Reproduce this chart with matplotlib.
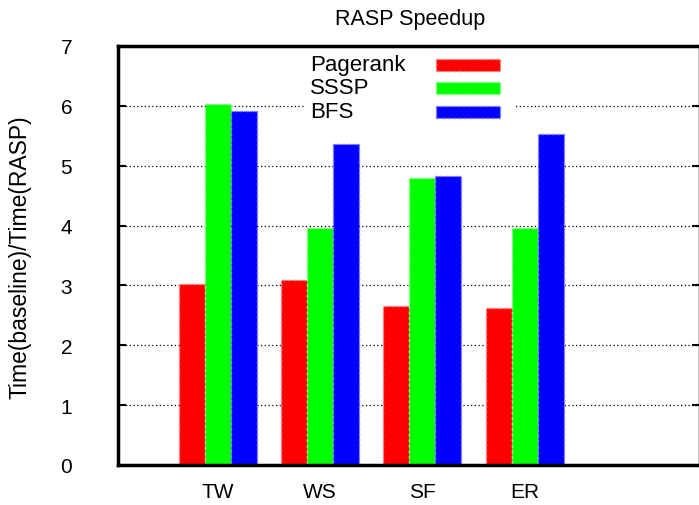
import matplotlib
matplotlib.use("Agg")
import matplotlib.pyplot as plt
from matplotlib.patches import Rectangle
import numpy as np

plt.rcParams['font.family'] = ['Liberation Sans', 'DejaVu Sans']

categories = ["TW", "WS", "SF", "ER"]
series_names = ["Pagerank", "SSSP", "BFS"]
pagerank = [3.02, 3.09, 2.65, 2.62]
sssp = [6.03, 3.96, 4.79, 3.96]
bfs = [5.91, 5.36, 4.82, 5.53]
colors = ["#ff0000", "#00ff00", "#0000ff"]
edge_colors = ["#ff8080", "#80ff80", "#8080ff"]
yticks = [0, 1, 2, 3, 4, 5, 6, 7]

W, H = 699, 506
fig = plt.figure(figsize=(W / 100, H / 100), dpi=100)
ax = fig.add_axes([118 / W, (H - 466) / H, (700 - 118) / W, (466 - 47) / H])

def fx(px):
    return px / W

def fy(py):
    return 1 - py / H

x = np.arange(len(categories))
bw = 0.255
for i, (vals, c, ec) in enumerate(zip([pagerank, sssp, bfs], colors, edge_colors)):
    ax.bar(x + (i - 1) * bw, vals, bw, color=c, edgecolor=ec, linewidth=1,
           linestyle=(0, (2, 2)), zorder=3)

ax.set_xlim(-0.978, 4.716)
ax.set_ylim(0, 7)
ax.set_yticks(yticks)
ax.set_xticks(x)
ax.set_xticklabels(categories)

for yv in yticks[1:-1]:
    ax.axhline(yv, color="black", linestyle=(0, (1, 2)), linewidth=0.9, zorder=1)

for s in ax.spines.values():
    s.set_linewidth(2.5)
    s.set_zorder(5)

ax.tick_params(axis='y', direction='in', length=6, width=1.5, right=True,
               labelsize=15, pad=33)
ax.tick_params(axis='x', length=0, labelsize=15, pad=12)

fig.text(fx(410), fy(19), "RASP Speedup", ha='center', va='center', fontsize=15.5)
fig.text(fx(20), fy(257), "Time(baseline)/Time(RASP)", rotation=90,
         ha='center', va='center', fontsize=16.5)

# key (gnuplot style: label left, sample right) on white background
fig.add_artist(Rectangle((fx(306), fy(124)), fx(514) - fx(306), fy(50) - fy(124),
                         transform=fig.transFigure, facecolor='white',
                         edgecolor='none', zorder=2))
row_y = [65.5, 89, 112.5]
for name, c, ec, ry in zip(series_names, colors, edge_colors, row_y):
    fig.text(fx(310), fy(ry), name, ha='left', va='center', fontsize=16, zorder=3)
    fig.add_artist(Rectangle((fx(436), fy(ry + 6)), fx(500) - fx(436), fy(ry - 6) - fy(ry + 6),
                             transform=fig.transFigure, facecolor=c, edgecolor=ec,
                             linewidth=1, linestyle=(0, (2, 2)), zorder=3))

fig.savefig("out.png", dpi=100)
